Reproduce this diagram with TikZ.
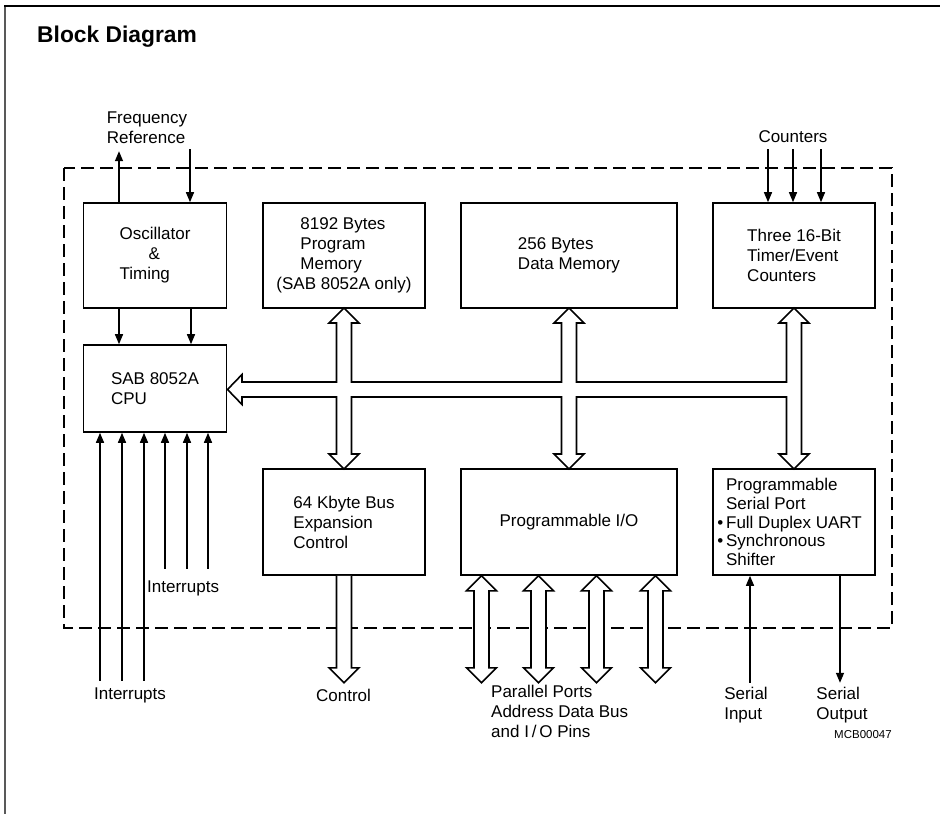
\documentclass[tikz,border=0pt]{standalone}
\usepackage{fontspec}
\setmainfont{Liberation Sans}
\usetikzlibrary{positioning}
\usetikzlibrary{calc,arrows.meta}

% hollow double-headed bus arrow, tip at #1, length #2
\newcommand{\iobus}[2]{%
\draw[bus] #1 -- ++(15,15) -- ++(-7.5,0) -- ++(0,#2-30) -- ++(7.5,0)
 -- ++(-15,15) -- ++(-15,-15) -- ++(7.5,0) -- ++(0,30-#2) -- ++(-7.5,0) -- cycle;}

\begin{document}
\begin{tikzpicture}[x=1pt,y=-1pt,
 box/.style={draw,line width=1.6pt,inner sep=0pt,align=left,font=\fontsize{17}{20}\selectfont},
 lbl/.style={align=left,inner sep=0pt,font=\fontsize{17}{20}\selectfont},
 sig/.style={line width=1.4pt,-{Triangle[length=10pt,width=8pt]}},
 bus/.style={draw,fill=white,line width=1.6pt,line join=miter}]
\useasboundingbox (0,0) rectangle (940,814);
\draw[line width=2pt,black!65] (5,814) -- (5,6);
\draw[line width=2pt] (4,6) -- (940,6);
\node[anchor=base west,inner sep=0pt,font=\fontsize{22.8}{26}\selectfont\bfseries] (title) at (37,42) {Block Diagram};
\draw[line width=1.8pt,dash pattern=on 13pt off 6pt] (64,168) rectangle (892,628);

\path
(155,255.5) node [box,minimum width=143pt,minimum height=105pt](osc) {Oscillator\\\hspace*{29pt}\&\\Timing}
(344,255.5) node [box,minimum width=162pt,minimum height=105pt](pm) {\hspace*{24pt}8192 Bytes\\\hspace*{24pt}Program\\\hspace*{24pt}Memory\\(SAB 8052A only)}
(569,255.5) node [box,minimum width=216pt,minimum height=105pt](dm) {256 Bytes\\Data Memory}
(794,255.5) node [box,minimum width=162pt,minimum height=105pt](tc) {Three 16-Bit\\Timer/Event\\Counters}
(155,388.5) node [box,minimum width=143pt,minimum height=87pt](cpu) {SAB 8052A\\CPU}
(344,522) node [box,minimum width=162pt,minimum height=106pt](bx) {64 Kbyte Bus\\Expansion\\Control}
(569,522) node [box,minimum width=216pt,minimum height=106pt](pio) {Programmable I/O}
(794,522) node [box,minimum width=162pt,minimum height=106pt,font=\fontsize{17}{18.7}\selectfont](sp) {Programmable\\Serial Port\\\llap{\textbullet\,}Full Duplex UART\\\llap{\textbullet\,}Synchronous\\Shifter};

% outside labels
\path
(147,128) node [lbl](fr) {Frequency\\Reference}
(793,137) node [lbl](cnt) {Counters}
(147,588) node [lbl,anchor=west](intin) {Interrupts}
(130,695) node [lbl](intout) {Interrupts}
(343.5,695) node [lbl](ctl) {Control}
(491,685) node [lbl,anchor=north west](pp) {Parallel Ports\\Address Data Bus\\and I\,/\,O Pins}
(746,705) node [lbl](sin) {Serial\\Input}
(842,705) node [lbl](sout) {Serial\\Output}
(863,735) node [lbl,font=\fontsize{11.5}{13}\selectfont](ref) {MCB00047};

% clock and control lines
\draw[sig] ([xshift=-36pt]osc.north) -- ++(0,-51);
\draw[sig] ([xshift=35pt]osc.north) ++(0,-53) -- ([xshift=35pt]osc.north);
\draw[sig] ([xshift=-36pt]osc.south) -- ([xshift=-36pt]cpu.north);
\draw[sig] ([xshift=36pt]osc.south) -- ([xshift=36pt]cpu.north);
\foreach \dx in {-26,-1,27}
  \draw[sig] ([xshift=\dx pt]tc.north) ++(0,-53) -- ([xshift=\dx pt]tc.north);
\foreach \dx in {-55,-33,-11}
  \draw[sig] ([xshift=\dx pt]cpu.south) ++(0,248) -- ([xshift=\dx pt]cpu.south);
\foreach \dx in {10,32,53}
  \draw[sig] ([xshift=\dx pt]cpu.south) ++(0,136) -- ([xshift=\dx pt]cpu.south);
\draw[sig] ([xshift=-44pt]sp.south) ++(0,107) -- ([xshift=-44pt]sp.south);
\draw[sig] ([xshift=46pt]sp.south) -- ++(0,107);

% internal bus
\draw[bus] (227.5,389.5) -- (242,374.5) -- (242,382) -- (336.5,382) -- (336.5,323) -- (329,323)
 -- (344,308) -- (359,323) -- (351.5,323) -- (351.5,382) -- (561.5,382) -- (561.5,323)
 -- (554,323) -- (569,308) -- (584,323) -- (576.5,323) -- (576.5,382) -- (786.5,382)
 -- (786.5,323) -- (779,323) -- (794,308) -- (809,323) -- (801.5,323) -- (801.5,454)
 -- (809,454) -- (794,469) -- (779,454) -- (786.5,454) -- (786.5,397) -- (576.5,397)
 -- (576.5,454) -- (584,454) -- (569,469) -- (554,454) -- (561.5,454) -- (561.5,397)
 -- (351.5,397) -- (351.5,454) -- (359,454) -- (344,469) -- (329,454) -- (336.5,454)
 -- (336.5,397) -- (242,397) -- (242,404.5) -- cycle;
\draw[bus] (bx.south) ++(-7.5,0) -- ++(0,92) -- ++(-7.5,0) -- ++(15,15) -- ++(15,-15)
 -- ++(-7.5,0) -- ++(0,-92);
\foreach \dx in {-87.5,-30.5,27.5,86.5}
  {\iobus{([xshift=\dx pt]pio.south)}{107}}
\end{tikzpicture}
\end{document}
